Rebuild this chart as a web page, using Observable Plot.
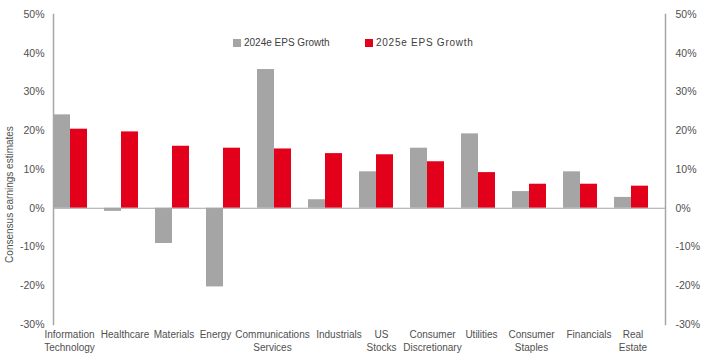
<!DOCTYPE html>
<html>
<head>
<meta charset="utf-8">
<script src="https://cdn.jsdelivr.net/npm/d3@7"></script>
<script src="https://cdn.jsdelivr.net/npm/@observablehq/plot@0.6"></script>
<style>
  body { margin: 0; background: #fff; }
  #wrap { position: relative; width: 706px; height: 361px; }
  #legend { position: absolute; left: 0; top: 0; width: 706px; height: 0; font-family: "Liberation Sans", Arial, sans-serif; font-size: 10px; color: #404040; }
  .item { position: absolute; top: 37px; display: flex; align-items: center; white-space: nowrap; }
  .sw { width: 8px; height: 8px; margin-right: 3px; }
</style>
</head>
<body>
<div id="wrap"><div id="legend"></div></div>
<script>
const categories = ["Information Technology", "Healthcare", "Materials", "Energy", "Communications Services", "Industrials", "US Stocks", "Consumer Discretionary", "Utilities", "Consumer Staples", "Financials", "Real Estate"];
const tickLabels = ["Information\nTechnology", "Healthcare", "Materials", "Energy", "Communications\nServices", "Industrials", "US\nStocks", "Consumer\nDiscretionary", "Utilities", "Consumer\nStaples", "Financials", "Real\nEstate"];
const series = ["2024e EPS Growth", "2025e EPS Growth"];
const growth2024 = [24.1, -0.8, -9.1, -20.3, 35.8, 2.2, 9.4, 15.5, 19.2, 4.3, 9.4, 2.8];
const growth2025 = [20.4, 19.7, 16.0, 15.5, 15.3, 14.1, 13.8, 12.0, 9.2, 6.2, 6.2, 5.7];
const colors = ["#a5a5a5", "#e3001b"];
const yTicks = [-30, -20, -10, 0, 10, 20, 30, 40, 50];
const yTitle = ["Consensus earnings estimates"];

const rows2024 = categories.map((c, i) => ({category: c, value: growth2024[i]}));
const rows2025 = categories.map((c, i) => ({category: c, value: growth2025[i]}));
const labelOf = new Map(categories.map((c, i) => [c, tickLabels[i]]));
const axisColor = "#a6a6a6";
const textColor = "#505050";
// label nudges (layout only), matching the reference's spread of category labels
const labelNudge = {"Information Technology": -1, "Healthcare": 3.5, "Materials": 1.5, "Energy": -8, "Communications Services": -2, "Industrials": 13.5, "US Stocks": 5, "Consumer Discretionary": 5, "Utilities": 3, "Consumer Staples": 2, "Financials": 8.5, "Real Estate": 1.5};

const xAxes = categories.map(c => Plot.axisX({ticks: [c], tickSize: 0, tickPadding: 5, tickFormat: d => labelOf.get(d), label: null, fill: textColor, fontSize: 10, lineHeight: 1.25, dx: labelNudge[c]}));

const chart = Plot.plot({
  width: 706,
  height: 361,
  marginTop: 14,
  marginBottom: 37,
  marginLeft: 53,
  marginRight: 41,
  style: {fontFamily: "'Liberation Sans', Arial, sans-serif", fontSize: "10.5px", color: textColor, background: "#fff"},
  x: {domain: categories, paddingInner: 1/3, paddingOuter: 1/6, align: 0},
  y: {domain: [-30, 50]},
  marks: [
    Plot.barY(rows2024, {x: "category", y: "value", fill: colors[0], insetRight: 17}),
    Plot.barY(rows2025, {x: "category", y: "value", fill: colors[1], insetLeft: 17}),
    Plot.ruleY([0], {stroke: axisColor, strokeWidth: 1}),
    Plot.frame({anchor: "left", stroke: axisColor, strokeWidth: 1.5}),
    Plot.frame({anchor: "right", stroke: axisColor, strokeWidth: 1.5}),
    ...xAxes,
    Plot.axisY({anchor: "left", ticks: yTicks, tickSize: 0, tickPadding: 9, tickFormat: d => d + "%", label: null, fill: textColor, fontSize: 10.5}),
    Plot.axisY({anchor: "right", ticks: yTicks, tickSize: 0, tickPadding: 10, tickFormat: d => d + "%", label: null, fill: textColor, fontSize: 10.5}),
    Plot.text(yTitle, {text: d => d, frameAnchor: "left", rotate: -90, textAnchor: "middle", lineAnchor: "top", dx: -47.5, dy: 25, fill: textColor, fontSize: 10})
  ]
});
document.getElementById("wrap").prepend(chart);

const legend = document.getElementById("legend");
const legendX = [233, 365];
const legendSpacing = ["0px", "0.75px"];
series.forEach((s, i) => {
  const item = document.createElement("div");
  item.className = "item";
  item.style.left = legendX[i] + "px";
  item.style.letterSpacing = legendSpacing[i];
  const sw = document.createElement("span");
  sw.className = "sw";
  sw.style.background = colors[i];
  const t = document.createElement("span");
  t.textContent = s;
  item.append(sw, t);
  legend.append(item);
});
</script>
</body>
</html>
